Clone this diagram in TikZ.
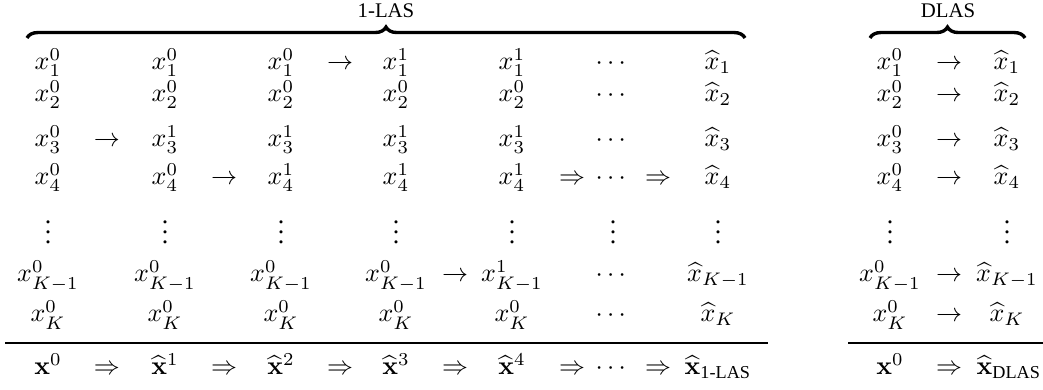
\documentclass[tikz,border=0pt]{standalone}
\usepackage{amsmath}
\usepackage[no-math]{fontspec}
\setmainfont{Liberation Serif}
\usetikzlibrary{decorations.pathreplacing}
\tikzset{
  cell/.style={anchor=base, inner sep=0pt, outer sep=0pt},
  hrule/.style={line width=0.4pt},
  grpbrace/.style={decorate, decoration={brace, amplitude=4.2pt}, line width=1.3pt},
  grplabel/.style={anchor=base, inner sep=0pt, font=\footnotesize}
}

\begin{document}
\begin{tikzpicture}[x=0.3846pt, y=-0.3846pt]
  \useasboundingbox (0,0) rectangle (1043,390);

  % 1-LAS: iterate columns
  \foreach \name/\cx/\sa/\sb/\sc/\sd/\se in {c1/48/0/0/0/0/0, c2/165/0/0/1/0/0,
      c3/281/0/0/1/1/0, c4/396/1/0/1/1/0, c5/512/1/0/1/1/1} {
    \node[cell] (\name-1) at (\cx,70) {$x^{\sa}_1$};
    \node[cell] (\name-2) at (\cx,102) {$x^{\sb}_2$};
    \node[cell] (\name-3) at (\cx,147) {$x^{\sc}_3$};
    \node[cell] (\name-4) at (\cx,185) {$x^{\sd}_4$};
    \node[cell] (\name-v) at (\cx,244) {$\vdots$};
    \node[cell] (\name-k1) at (\cx,282) {$x^{\se}_{K-1}$};
    \node[cell] (\name-k) at (\cx,322) {$x^0_K$};
  }

  % dots column
  \foreach \r/\ry in {1/70, 2/102, 3/147, 4/185, k1/282, k/322, b/375}
    \node[cell] (cd-\r) at (613,\ry) {$\cdots$};
  \node[cell] (cd-v) at (613,244) {$\vdots$};

  % final column
  \node[cell] (c7-1) at (718,70) {$\widehat{x}_1$};
  \node[cell] (c7-2) at (718,102) {$\widehat{x}_2$};
  \node[cell] (c7-3) at (718,147) {$\widehat{x}_3$};
  \node[cell] (c7-4) at (718,185) {$\widehat{x}_4$};
  \node[cell] (c7-v) at (718,244) {$\vdots$};
  \node[cell] (c7-k1) at (718,282) {$\widehat{x}_{K-1}$};
  \node[cell] (c7-k) at (718,322) {$\widehat{x}_K$};

  % updates
  \node[cell] (u1) at (340,70) {$\rightarrow$};
  \node[cell] (u3) at (107,147) {$\rightarrow$};
  \node[cell] (u4) at (224,185) {$\rightarrow$};
  \node[cell] (u4a) at (572,185) {$\Rightarrow$};
  \node[cell] (u4b) at (658,185) {$\Rightarrow$};
  \node[cell] (uk1) at (455,282) {$\rightarrow$};

  % bottom row
  \draw[hrule] (5,343) -- (768,343);
  \node[cell] (b1) at (48,375) {$\mathbf{x}^0$};
  \foreach \name/\cx/\s in {b2/165/1, b3/281/2, b4/396/3, b5/512/4}
    \node[cell] (\name) at (\cx,375) {$\widehat{\mathbf{x}}^{\s}$};
  \node[cell] (b7) at (718,375) {$\widehat{\mathbf{x}}_{\text{1-LAS}}$};
  \foreach \cx in {107,224,340,455,572,658}
    \node[cell] at (\cx,375) {$\Rightarrow$};

  \draw[grpbrace] (27,38) -- (745,38);
  \node[grplabel] (laslabel) at (386,18) {1-LAS};

  % DLAS
  \foreach \r/\ry/\sub in {1/70/1, 2/102/2, 3/147/3, 4/185/4, k1/282/{K-1}, k/322/K} {
    \node[cell] (d1-\r) at (890,\ry) {$x^0_{\sub}$};
    \node[cell] (da-\r) at (949,\ry) {$\rightarrow$};
    \node[cell] (d2-\r) at (1007,\ry) {$\widehat{x}_{\sub}$};
  }
  \node[cell] (d1-v) at (890,244) {$\vdots$};
  \node[cell] (d2-v) at (1007,244) {$\vdots$};

  \draw[hrule] (848,343) -- (1043,343);
  \node[cell] (d1-b) at (890,375) {$\mathbf{x}^0$};
  \node[cell] (da-b) at (949,375) {$\Rightarrow$};
  \node[cell] (d2-b) at (1009,375) {$\widehat{\mathbf{x}}_{\text{DLAS}}$};

  \draw[grpbrace] (870,38) -- (1025,38);
  \node[grplabel] (dlaslabel) at (948,18) {DLAS};
\end{tikzpicture}
\end{document}
